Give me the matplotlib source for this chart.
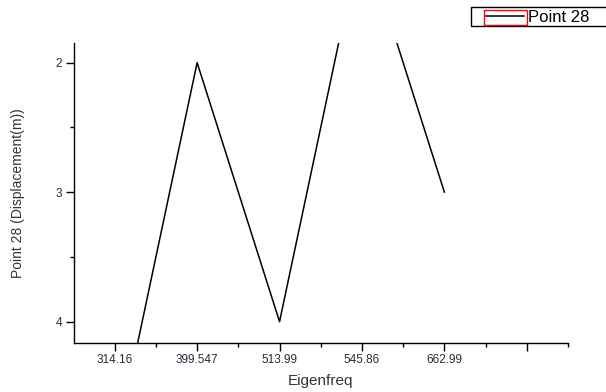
import matplotlib
matplotlib.use("Agg")
import matplotlib.pyplot as plt
from matplotlib.patches import Rectangle
from matplotlib.ticker import FixedLocator

plt.rcParams["font.family"] = ["Liberation Sans", "DejaVu Sans"]

# data
freq_labels = ["314.16", "399.547", "513.99", "545.86", "662.99", ""]
displacement = [5, 2, 4, 1, 3]
series_name = "Point 28"

W, H = 606, 392
fig = plt.figure(figsize=(W / 100, H / 100), dpi=100)
ax = fig.add_axes([73.5 / W, 1 - 343 / H, (568 - 73.5) / W, (343 - 42.7) / H])

xpos = list(range(1, len(displacement) + 1))
line, = ax.plot(xpos, displacement, color="black", linewidth=1.1, label=series_name)

ax.set_xlim(0.5, len(freq_labels) + 0.5)
ax.set_ylim(4.165, 1.846)
ax.set_xticks(range(1, len(freq_labels) + 1))
ax.set_xticklabels(freq_labels)
ax.xaxis.set_minor_locator(FixedLocator([i + 0.5 for i in range(1, len(freq_labels) + 1)]))
ax.set_yticks([2, 3, 4])
ax.set_yticklabels(["2", "3", "4"])
ax.yaxis.set_minor_locator(FixedLocator([2.5, 3.5]))

for side in ("top", "right"):
    ax.spines[side].set_visible(False)
for side in ("left", "bottom"):
    ax.spines[side].set_linewidth(1.0)
ax.tick_params(which="major", direction="out", length=6, width=1, labelsize=8.5, colors="black", pad=2)
ax.tick_params(which="minor", direction="out", length=3, width=1)
for lbl in ax.get_xticklabels() + ax.get_yticklabels():
    lbl.set_color("#2a2a3a")

ax.set_xlabel("Eigenfreq", fontsize=11, color="#333333", labelpad=6)
ax.set_ylabel("Point 28 (Displacement(m))", fontsize=10, color="#333333", labelpad=22)

# legend at top right, its frame running off the canvas edge
leg = fig.legend(handles=[line], loc="center left", bbox_to_anchor=(486 / W, 1 - 17.5 / H),
                 frameon=False, fontsize=12, handlelength=2.3, borderpad=0,
                 handletextpad=0.25, borderaxespad=0)
fig.add_artist(Rectangle((471 / W, 1 - 26 / H), 141 / W, 19 / H, transform=fig.transFigure,
                         fill=False, edgecolor="black", linewidth=1.0, zorder=6))
# red selection box around the legend handle
fig.add_artist(Rectangle((484 / W, 1 - 25 / H), 43 / W, 15 / H, transform=fig.transFigure,
                         fill=False, edgecolor="red", linewidth=1.0, zorder=7))

fig.savefig("out.png", dpi=100)
